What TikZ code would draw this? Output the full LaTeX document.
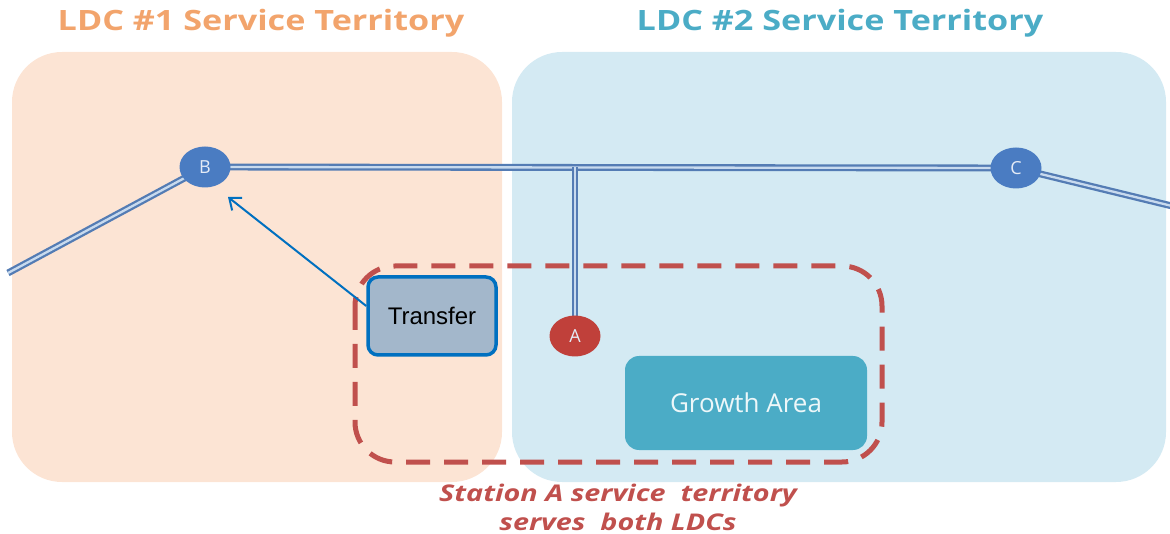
\documentclass[tikz,border=0pt]{standalone}
\usepackage{fontspec}
\setmainfont{Open Sans}
\newfontfamily\arialfont{Liberation Sans}
\usetikzlibrary{backgrounds,arrows.meta,shapes.geometric}
\definecolor{tpeach}{RGB}{252,228,212}
\definecolor{tsky}{RGB}{212,234,243}
\definecolor{torange}{RGB}{242,164,108}
\definecolor{tteal}{RGB}{75,172,198}
\definecolor{nblue}{RGB}{74,124,194}
\definecolor{nred}{RGB}{192,64,58}
\definecolor{wire}{RGB}{84,124,180}
\definecolor{wirein}{RGB}{200,218,238}
\definecolor{sred}{RGB}{192,80,77}
\definecolor{tgray}{RGB}{163,183,203}
\definecolor{tborder}{RGB}{0,112,192}

\begin{document}
\begin{tikzpicture}[x=1pt,y=-1pt,
    station/.style={ellipse, fill=#1, text=white!85!nblue, inner sep=0pt, minimum width=51pt,
        minimum height=41pt, font=\fontsize{18}{18}\selectfont},
    feeder/.style={draw=wire, line width=2.3pt, double=wirein, double distance=2.3pt},
    title/.style={font=\fontsize{28}{28}\selectfont\bfseries, text=#1, xscale=1.22,
        transform shape}]
    \useasboundingbox (0,0) rectangle (1170,534);

    \node[title=torange] (ldc1) at (261,23) {LDC \#1 Service Territory};
    \node[title=tteal] (ldc2) at (840,23) {LDC \#2 Service Territory};

    \node[station=nblue] (B) at (205,167) {B};
    \node[station=nblue] (C) at (1016,168) {C};
    \node[station=nred] (A) at (575,336) {A};

    \coordinate (west) at (8,273);
    \coordinate (east) at (1172,206);
    \coordinate (tap) at (575,167);

    \begin{scope}[on background layer]
        % territories
        \fill[tpeach, rounded corners=50pt] (12,52) rectangle (502,482);
        \fill[tsky, rounded corners=50pt] (512,52) rectangle (1166,482);
        \draw[feeder] (west) -- (B.center) -- (C.center) -- (east);
        \draw[feeder] (tap) -- (A.center);
    \end{scope}

    % station A territory
    \draw[sred, line width=5pt, dash pattern=on 24pt off 14pt, rounded corners=40pt]
        (355,266) rectangle (882,462);

    \node[draw=tborder, line width=3.5pt, fill=tgray, rounded corners=10pt,
        minimum width=128pt, minimum height=78pt, font=\arialfont\fontsize{24}{24}\selectfont]
        (transfer) at (432,316) {Transfer};
    \node[fill=tteal, rounded corners=14pt, minimum width=242pt, minimum height=94pt,
        text=white!90!tteal, font=\fontsize{26}{26}\selectfont] (growth) at (746,403) {Growth Area};

    \draw[tborder, line width=2pt, -{Straight Barb[length=10pt,width=16pt]}]
        (transfer.west |- 0,306) -- (228,197);

    \node[text=sred, align=center, xscale=1.25, transform shape,
        font=\fontsize{23}{29}\selectfont\bfseries\itshape]
        (caption) at (618,507) {Station A service\ \ territory\\serves\ \ both LDCs};
\end{tikzpicture}
\end{document}
